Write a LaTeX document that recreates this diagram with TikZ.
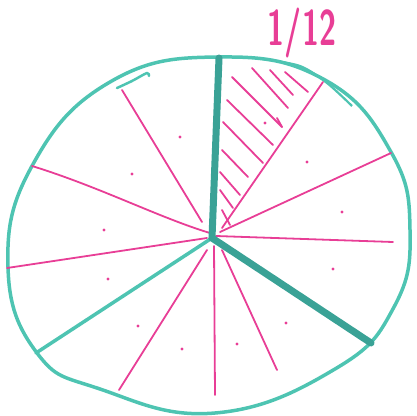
\documentclass[tikz,border=0pt]{standalone}
\usepackage{xcolor}
\usepackage{tikz}
\definecolor{MarkTeal}{RGB}{78,196,178}
\definecolor{MarkDark}{RGB}{58,162,150}
\definecolor{MarkPink}{RGB}{232,62,150}
\begin{document}
\begin{tikzpicture}[
    x=1pt, y=-1pt,
    rim/.style={draw=MarkTeal, line width=3.5pt, line join=round},
    thirdcut/.style={draw=MarkDark, line width=7pt, line cap=round},
    thincut/.style={draw=MarkTeal, line width=3.5pt, line cap=round},
    spoke/.style={draw=MarkPink, line width=1.8pt, line cap=round},
    hatch/.style={draw=MarkPink, line width=1.8pt, line cap=round},
    dot/.style={circle, fill=MarkPink, inner sep=0pt, minimum size=3.2pt},
    fraction/.style={text=MarkPink, font=\sffamily\bfseries\fontsize{50}{50}\selectfont,
      xscale=0.62, inner sep=0pt}
  ]
    \useasboundingbox (0,0) rectangle (417,415);

    \draw[rim] plot[smooth cycle, tension=0.75] coordinates {
      (220,57) (325,80) (391,152) (410,230) (394,307) (335,369)
      (215,413) (100,389) (37,353) (8,267) (32,166) (110,82)};
    \draw[rim, line width=2.2pt] plot[smooth] coordinates
      {(262,59) (300,66) (327,83) (352,106)};
    \draw[rim, line width=2.5pt, line cap=round] plot[smooth] coordinates
      {(117,88) (132,81) (147,73) (149,76)};

    \coordinate (hub) at (212,238);
    \coordinate (top) at (219,58);
    \coordinate (lowright) at (371,343);
    \coordinate (lowleft) at (36,353);

    % pink twelfths
    \draw[spoke] (222,228) -- (323,82);
    \draw[spoke] (220,232) -- (391,153);
    \draw[spoke] (216,236) -- (393,242);
    \draw[spoke] (222,250) -- (277,370);
    \draw[spoke] (214,246) -- (215,395);
    \draw[spoke] (207,250) -- (119,390);
    \draw[spoke] (207,238) -- (7,268);
    \draw[spoke] (210,233) .. controls (160,218) and (100,187) .. (32,166);
    \draw[spoke] (202,222) -- (122,90);

    % shaded twelfth
    \draw[hatch] (252,68) -- (288,108);
    \draw[hatch] (270,70) -- (293,95);
    \draw[hatch] (285,72) -- (308,92);
    \draw[hatch] (232,77) -- (282,127);
    \draw[hatch] (277,118) -- (282,127);
    \draw[hatch] (227,100) -- (273,145);
    \draw[hatch] (223,122) -- (263,163);
    \draw[hatch] (222,150) -- (248,177);
    \draw[hatch] (220,172) -- (240,195);
    \draw[hatch] (220,190) -- (233,208);
    \draw[hatch] (222,210) -- (230,225);

    % thirds
    \draw[thincut] (hub) -- (lowleft);
    \draw[thirdcut] (hub) -- (top);
    \draw[thirdcut] (hub) -- (lowright);

    \node[dot] (d1) at (180,137) {};
    \node[dot] (d2) at (132,174) {};
    \node[dot] (d3) at (104,230) {};
    \node[dot] (d4) at (108,279) {};
    \node[dot] (d5) at (138,326) {};
    \node[dot] (d6) at (182,349) {};
    \node[dot] (d7) at (237,344) {};
    \node[dot] (d8) at (286,323) {};
    \node[dot] (d9) at (333,269) {};
    \node[dot] (d10) at (342,212) {};
    \node[dot] (d11) at (307,162) {};
    \node[dot] (d12) at (265,123) {};

    \node[fraction] (share) at (302,33) {1/12};
  \end{tikzpicture}
\end{document}
